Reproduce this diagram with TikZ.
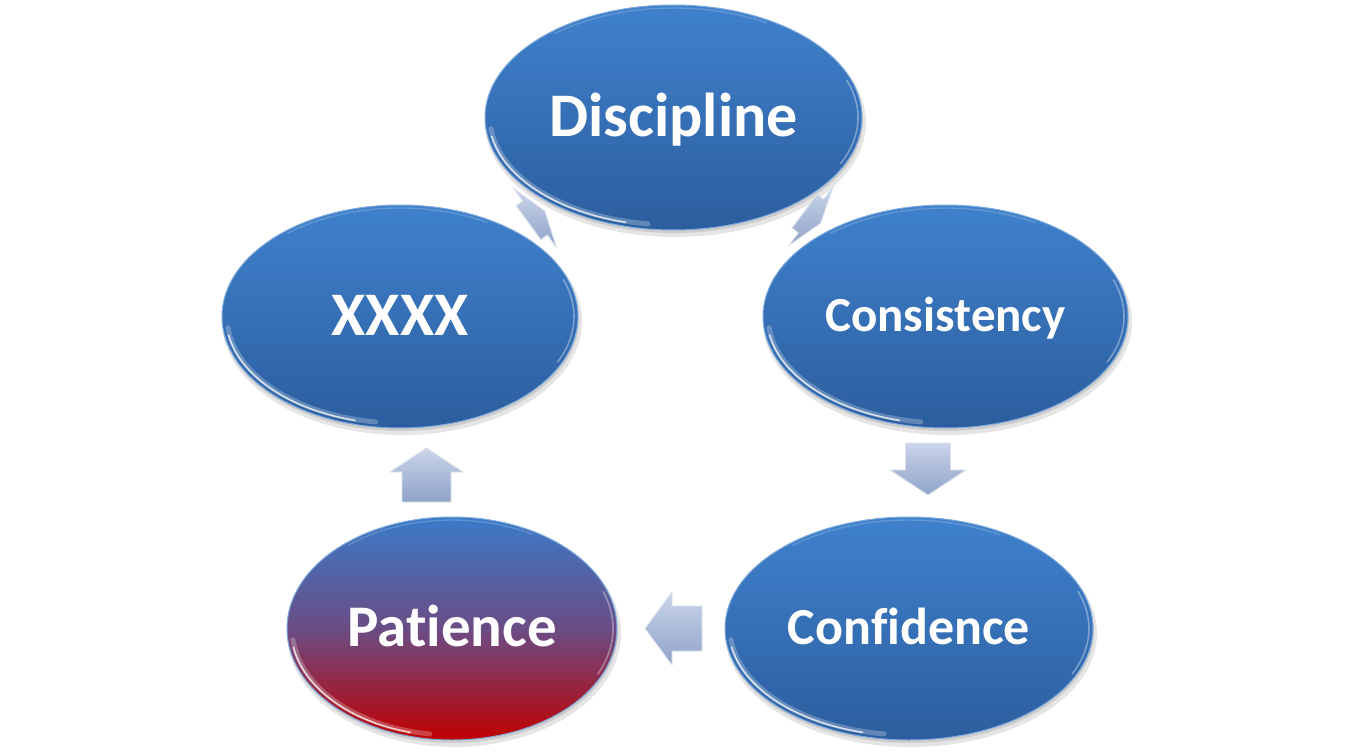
\documentclass[tikz,border=0pt]{standalone}
\usepackage{fontspec}
\setmainfont[Ligatures={NoCommon,NoRare,NoContextual}]{Carlito}
\usetikzlibrary{shapes.geometric}
\definecolor{btop}{HTML}{3F81CD}
\definecolor{bbot}{HTML}{2C5E9E}
\definecolor{ptop}{HTML}{3A7BC8}
\definecolor{pmid}{HTML}{6A4C85}
\definecolor{pbot}{HTML}{C00000}
\definecolor{rimc}{HTML}{7FAADD}
\definecolor{atop}{HTML}{CBD5EA}
\definecolor{abot}{HTML}{8FA2C8}
\newcommand\ovalrim[4]{%
  \fill[black,opacity=0.10] (#1+2,#2+5) ellipse [x radius=#3+2, y radius=#4+2];
  \fill[black,opacity=0.10] (#1+1,#2+3) ellipse [x radius=#3, y radius=#4];
}
\newcommand\ovalshine[4]{%
  \draw[white,opacity=0.25,line width=5pt,line cap=round] plot[domain=186:262,samples=40] ({#1+(#3-5)*cos(\x)},{#2-(#4-5)*sin(\x)});
  \draw[white,opacity=0.75,line width=1.6pt,line cap=round] plot[domain=190:255,samples=40] ({#1+(#3-4)*cos(\x)},{#2-(#4-4)*sin(\x)});
  \draw[white,opacity=0.35,line width=1.6pt,line cap=round] plot[domain=-25:20,samples=30] ({#1+(#3-4)*cos(\x)},{#2-(#4-4)*sin(\x)});
  \draw[white,opacity=0.18,line width=1.4pt,line cap=round] plot[domain=60:130,samples=30] ({#1+(#3-3)*cos(\x)},{#2-(#4-3)*sin(\x)});
}
\tikzset{
  pics/barrow/.style n args={4}{code={
    \path[arrowfill] (-#1,-#3) -- (0,-#3) -- (0,-#4) -- (#2,0) -- (0,#4) -- (0,#3) -- (-#1,#3) -- cycle;
  }},
  arrowfill/.style={top color=atop, bottom color=abot, draw=white!70!abot, line width=0.8pt, line join=miter},
  oval/.style={ellipse, inner sep=0pt, text=white, draw=rimc, line width=1pt,
    top color=btop, bottom color=bbot, text depth=0pt},
}
\begin{document}
\begin{tikzpicture}[x=1pt,y=-1pt]
\useasboundingbox (0,0) rectangle (1352,754);
\fill[white] (0,0) rectangle (1352,754);

% shadows
\ovalrim{673.5}{117.5}{188.5}{112.5}
\ovalrim{945.5}{316.5}{182.5}{111.5}
\ovalrim{400}{316.5}{178}{111.5}
\ovalrim{909}{628.5}{184}{111.5}
\ovalrim{452}{628.5}{165}{111.5}

% ellipses
\node[oval, minimum width=377pt, minimum height=225pt, text height=38.4pt,
  font=\bfseries\fontsize{62}{70}\selectfont] (d) at (673.5,117.5) {Discipline};
\node[oval, minimum width=365pt, minimum height=223pt, text height=30.4pt,
  font=\bfseries\fontsize{49}{56}\selectfont] (cs) at (945.5,316.5) {Consistency};
\node[oval, minimum width=356pt, minimum height=223pt, text height=38.4pt,
  font=\bfseries\fontsize{62}{70}\selectfont] (x) at (400,316.5) {XXXX};
\node[oval, minimum width=368pt, minimum height=223pt, text height=32.2pt,
  font=\bfseries\fontsize{52}{60}\selectfont] (cf) at (909,628.5) {Conf\kern0pt idence};
\node[oval, minimum width=330pt, minimum height=223pt, text height=36.6pt,
  top color=ptop, bottom color=pbot, middle color=pmid,
  font=\bfseries\fontsize{59}{66}\selectfont] (p) at (452,628.5) {Pat\kern0pt ience};

% glossy rims
\ovalshine{673.5}{117.5}{188.5}{112.5}
\ovalshine{945.5}{316.5}{182.5}{111.5}
\ovalshine{400}{316.5}{178}{111.5}
\ovalshine{909}{628.5}{184}{111.5}
\ovalshine{452}{628.5}{165}{111.5}

% block arrows
\pic[rotate=36] at (535,218) {barrow={8}{12}{21}{37}};
\pic[rotate=-37] at (811,216) {barrow={8}{12}{21}{37}};
\pic[rotate=-90] at (928,470) {barrow={27}{25}{22.5}{38}};
\pic[rotate=180] at (672,628.5) {barrow={30}{27}{22.5}{36.5}};
\pic[rotate=90] at (426.5,472) {barrow={30}{24}{24.5}{36.5}};
\end{tikzpicture}
\end{document}
